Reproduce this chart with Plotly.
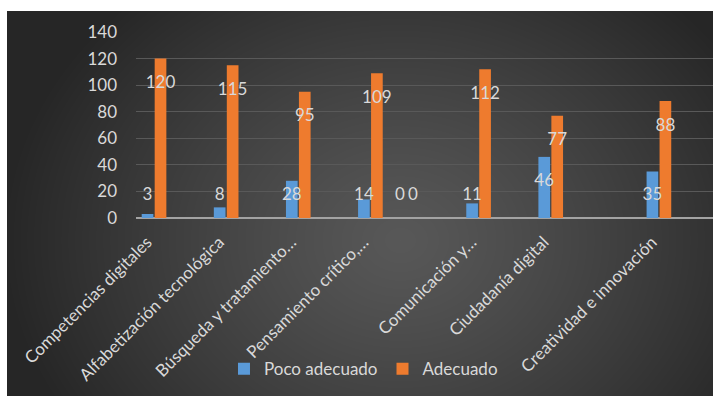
import base64, struct, zlib
import numpy as np
import plotly.graph_objects as go

# ---------------- data ----------------
categories = ["Competencias digitales", "", "Alfabetización tecnológica", "",
              "Búsqueda y tratamiento…", "", "Pensamiento crítico,…", "", "",
              "Comunicación y…", "", "Ciudadanía digital", "", "",
              "Creatividad e innovación", ""]
poco_adecuado = [3, None, 8, None, 28, None, 14, 0, None, 11, None, 46, None, None, 35, None]
adecuado = [120, None, 115, None, 95, None, 109, 0, None, 112, None, 77, None, None, 88, None]
series_names = ["Poco adecuado", "Adecuado"]
y_ticks = [0, 20, 40, 60, 80, 100, 120, 140]

# ---------------- layout constants ----------------
W, H = 713, 396
ML, MR, MT, MB = 136, 0, 32, 178
PW, PH = W - ML - MR, H - MT - MB
BG_X0, BG_Y0 = 7, 11
BLUE, ORANGE = "#5a9ad8", "#ee7b2e"
TXT = "#d9d9d9"
FONT = "Lato"
FS = 17
BARGAP, GROUPGAP = 0.28, 0.1


def png_data_uri(arr):
    h, w = arr.shape
    raw = b"".join(b"\x00" + arr[i].tobytes() for i in range(h))
    def chunk(tag, data):
        c = struct.pack(">I", len(data)) + tag + data
        return c + struct.pack(">I", zlib.crc32(tag + data) & 0xffffffff)
    png = b"\x89PNG\r\n\x1a\n" + chunk(b"IHDR", struct.pack(">IIBBBBB", w, h, 8, 0, 0, 0, 0)) \
        + chunk(b"IDAT", zlib.compress(raw, 9)) + chunk(b"IEND", b"")
    return "data:image/png;base64," + base64.b64encode(png).decode()


# radial dark gradient background
bw, bh = W - BG_X0, H - BG_Y0
yy, xx = np.mgrid[0:bh, 0:bw]
cx, cy = 400 - BG_X0, 240 - BG_Y0
d = np.sqrt(((xx - cx) / 400.0) ** 2 + ((yy - cy) / 330.0) ** 2)
d = np.clip(d, 0, 1)
g = (0x58 + (0x26 - 0x58) * d ** 1.2).astype(np.uint8)
bg_uri = png_data_uri(g)

x_idx = list(range(len(categories)))
fig = go.Figure()
for name, vals, col in [(series_names[0], poco_adecuado, BLUE), (series_names[1], adecuado, ORANGE)]:
    fig.add_trace(go.Bar(x=x_idx, y=vals, name=name, marker=dict(color=col, line=dict(width=0)),
                         hoverinfo="y+name"))

# data labels, centred on each bar of the group
slot = (1 - BARGAP) / 2
for k, vals in enumerate([poco_adecuado, adecuado]):
    off = (k - 0.5) * slot
    xs, ys, ts = [], [], []
    for i, v in enumerate(vals):
        if v is None:
            continue
        xs.append(i + off)
        ys.append(max(v - 19, 17))
        ts.append(str(v))
    fig.add_trace(go.Scatter(x=xs, y=ys, text=ts, mode="text", showlegend=False,
                             hoverinfo="skip",
                             textfont=dict(family=FONT, size=FS, color=TXT)))

fig.add_layout_image(dict(
    source=bg_uri, xref="paper", yref="paper",
    x=(BG_X0 - ML) / PW, y=1 + (MT - BG_Y0) / PH,
    sizex=bw / PW, sizey=bh / PH, sizing="stretch",
    xanchor="left", yanchor="top", layer="below"))

fig.update_layout(
    width=W, height=H,
    margin=dict(l=ML, r=MR, t=MT, b=MB, pad=0),
    paper_bgcolor="white", plot_bgcolor="rgba(0,0,0,0)",
    barmode="group", bargap=BARGAP, bargroupgap=GROUPGAP,
    font=dict(family=FONT, size=FS, color=TXT),
    showlegend=True,
    legend=dict(orientation="h", x=0.1525, y=-0.716, xanchor="left", yanchor="top",
                font=dict(family=FONT, size=FS, color=TXT), bgcolor="rgba(0,0,0,0)",
                itemwidth=30, traceorder="normal"),
)
fig.update_xaxes(range=[-0.5, len(categories) - 0.5], tickmode="array", tickvals=x_idx,
                 ticktext=categories, tickangle=-45, showgrid=False, zeroline=False,
                 showline=False, ticks="", tickfont=dict(family=FONT, size=FS, color=TXT),
                 ticklabelstandoff=10, ticklabelshift=-7, fixedrange=True)
fig.update_yaxes(range=[0, 140], tickmode="array", tickvals=y_ticks, showgrid=True,
                 gridcolor="#595959", gridwidth=1, zeroline=True, zerolinecolor="#a3a3a3",
                 zerolinewidth=2, showline=False, ticks="", ticklabelstandoff=18,
                 tickfont=dict(family=FONT, size=FS, color=TXT), fixedrange=True)

fig.write_html("out.html")
